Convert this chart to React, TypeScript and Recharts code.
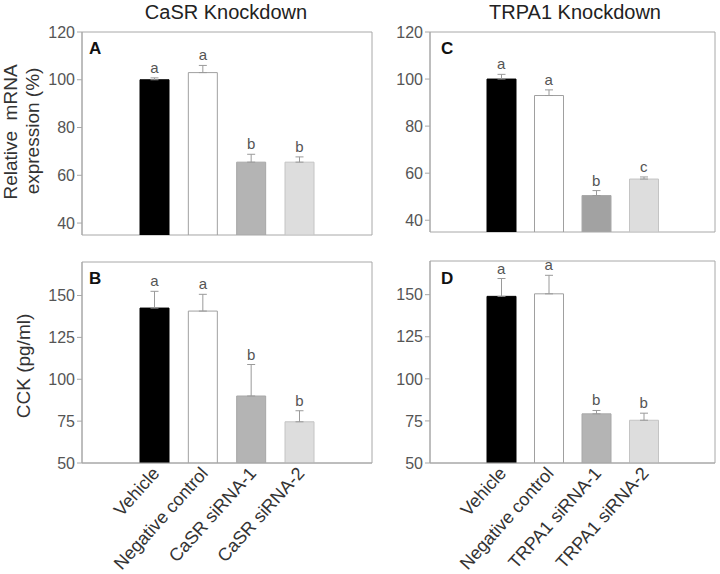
import React from "react";
import {
  ComposedChart,
  Bar,
  Line,
  XAxis,
  YAxis,
  Cell,
  ErrorBar,
  LabelList,
  ReferenceArea,
} from "recharts";

const FONT = "'Liberation Sans', Arial, sans-serif";

// ---- data ----
const casrCategories = ["Vehicle", "Negative control", "CaSR siRNA-1", "CaSR siRNA-2"];
const trpa1Categories = ["Vehicle", "Negative control", "TRPA1 siRNA-1", "TRPA1 siRNA-2"];

const casrMrna = [100, 103, 65.5, 65.5];
const casrMrnaErr = [0.8, 3, 3.3, 2.2];
const casrMrnaLetters = ["a", "a", "b", "b"];

const casrCck = [142.5, 140.7, 90, 74.6];
const casrCckErr = [10, 10, 18.8, 6.6];
const casrCckLetters = ["a", "a", "b", "b"];

const trpa1Mrna = [100, 93, 50.5, 57.5];
const trpa1MrnaErr = [2, 2.4, 2.1, 0.9];
const trpa1MrnaLetters = ["a", "a", "b", "c"];

const trpa1Cck = [149, 150.5, 79.2, 75.4];
const trpa1CckErr = [10.6, 11, 2, 4.2];
const trpa1CckLetters = ["a", "a", "b", "b"];

const mrnaTicks = [40, 60, 80, 100, 120];
const mrnaDomain = [35, 120];
const cckTicks = [50, 75, 100, 125, 150];
const cckDomain = [50, 170];

const fillsA = ["#000000", "#ffffff", "#b4b4b4", "#dddddd"];
const fillsC = ["#000000", "#ffffff", "#a2a2a2", "#dddddd"];
const strokesAll = ["#000000", "#a0a0a0", "#a8a8a8", "#c4c4c4"];

function buildRows(cats: string[], vals: number[], errs: number[], letters: string[]) {
  const rows: any[] = [{ name: "" }];
  cats.forEach((c, i) => {
    rows.push({
      name: c,
      value: vals[i],
      err: [0, errs[i]],
      top: vals[i] + errs[i],
      letter: letters[i],
    });
  });
  rows.push({ name: " " });
  return rows;
}

const AngledTick = (props: any) => {
  const { x, y, payload } = props;
  const v = payload && payload.value;
  if (!v || !String(v).trim()) return null;
  return (
    <text
      transform={`translate(${x + 6},${y + 11}) rotate(-48)`}
      textAnchor="end"
      fontSize={18}
      fontFamily={FONT}
      fill="#333"
    >
      {v}
    </text>
  );
};

const LetterLabel = (props: any) => {
  const { x, y, value } = props;
  if (value == null || x == null || y == null || isNaN(x) || isNaN(y)) return null;
  return (
    <text x={x} y={y - 5} textAnchor="middle" fontSize={15} fontFamily={FONT} fill="#555">
      {value}
    </text>
  );
};

const MrnaYLabel = () => (
  <g>
    <text
      transform="translate(10,132) rotate(-90)"
      textAnchor="middle"
      dominantBaseline="central"
      fontSize={19}
      fontFamily={FONT}
      fill="#333"
      style={{ whiteSpace: "pre" }}
    >
      {"Relative\u00a0\u00a0mRNA"}
    </text>
    <text
      transform="translate(32,131) rotate(-90)"
      textAnchor="middle"
      dominantBaseline="central"
      fontSize={19}
      fontFamily={FONT}
      fill="#333"
    >
      expression (%)
    </text>
  </g>
);

const CckYLabel = () => (
  <text
    transform="translate(23,126) rotate(-90)"
    textAnchor="middle"
    dominantBaseline="central"
    fontSize={19}
    fontFamily={FONT}
    fill="#333"
  >
    CCK (pg/ml)
  </text>
);

type PanelProps = {
  rows: any[];
  fills: string[];
  domain: number[];
  ticks: number[];
  width: number;
  height: number;
  margin: any;
  yWidth: number;
  xHeight: number;
  showX: boolean;
  yLabel?: any;
};

function Panel(p: PanelProps) {
  return (
    <ComposedChart
      width={p.width}
      height={p.height}
      data={p.rows}
      margin={p.margin}
      barCategoryGap="20%"
    >
      <XAxis
        dataKey="name"
        height={p.xHeight}
        interval={0}
        axisLine={{ stroke: "#a8a8a8" }}
        tickLine={false}
        tickSize={0}
        tickMargin={0}
        tick={p.showX ? <AngledTick /> : false}
      />
      <YAxis
        domain={p.domain}
        ticks={p.ticks}
        width={p.yWidth}
        allowDataOverflow
        axisLine={{ stroke: "#a8a8a8" }}
        tickLine={{ stroke: "#a8a8a8" }}
        tickSize={5}
        tickMargin={2}
        tick={{ fill: "#555", fontSize: 16, fontFamily: FONT }}
        label={p.yLabel ? { content: p.yLabel } : undefined}
      />
      <ReferenceArea y1={p.domain[0]} y2={p.domain[1]} fill="none" stroke="#a8a8a8" strokeWidth={1} ifOverflow="visible" />
      <Bar dataKey="value" isAnimationActive={false}>
        {p.rows.map((r, i) => (
          <Cell key={i} fill={i >= 1 && i <= 4 ? p.fills[i - 1] : "none"} stroke={i >= 1 && i <= 4 ? strokesAll[i - 1] : "none"} />
        ))}
        <ErrorBar dataKey="err" width={4} stroke="#9a9a9a" strokeWidth={1} direction="y" />
      </Bar>
      <Line dataKey="top" stroke="none" dot={false} activeDot={false} isAnimationActive={false} legendType="none">
        <LabelList dataKey="letter" content={LetterLabel} />
      </Line>
    </ComposedChart>
  );
}

const titleStyle: React.CSSProperties = {
  position: "absolute",
  fontFamily: FONT,
  fontSize: 20,
  lineHeight: "20px",
  color: "#222",
  textAlign: "center",
  width: 300,
  whiteSpace: "nowrap",
};

const letterStyle: React.CSSProperties = {
  position: "absolute",
  fontFamily: FONT,
  fontSize: 17,
  lineHeight: "17px",
  fontWeight: "bold",
  color: "#111",
};

export default function App() {
  const rowsA = buildRows(casrCategories, casrMrna, casrMrnaErr, casrMrnaLetters);
  const rowsB = buildRows(casrCategories, casrCck, casrCckErr, casrCckLetters);
  const rowsC = buildRows(trpa1Categories, trpa1Mrna, trpa1MrnaErr, trpa1MrnaLetters);
  const rowsD = buildRows(trpa1Categories, trpa1Cck, trpa1CckErr, trpa1CckLetters);
  return (
    <div style={{ position: "absolute", left: 0, top: 0, width: 720, height: 574, background: "#fff", overflow: "hidden" }}>
      <div style={{ position: "absolute", left: 0, top: 0 }}>
        <Panel rows={rowsA} fills={fillsA} domain={mrnaDomain} ticks={mrnaTicks} width={380} height={240}
          margin={{ top: 32, right: 8, bottom: 5, left: 0 }} yWidth={82} xHeight={0} showX={false} yLabel={MrnaYLabel} />
      </div>
      <div style={{ position: "absolute", left: 360, top: 0 }}>
        <Panel rows={rowsC} fills={fillsC} domain={mrnaDomain} ticks={mrnaTicks} width={360} height={240}
          margin={{ top: 32, right: 5, bottom: 8, left: 0 }} yWidth={70} xHeight={0} showX={false} />
      </div>
      <div style={{ position: "absolute", left: 0, top: 240 }}>
        <Panel rows={rowsB} fills={fillsA} domain={cckDomain} ticks={cckTicks} width={380} height={334}
          margin={{ top: 22, right: 8, bottom: 0, left: 0 }} yWidth={82} xHeight={111} showX={true} yLabel={CckYLabel} />
      </div>
      <div style={{ position: "absolute", left: 360, top: 240 }}>
        <Panel rows={rowsD} fills={fillsA} domain={cckDomain} ticks={cckTicks} width={360} height={334}
          margin={{ top: 21, right: 5, bottom: 0, left: 0 }} yWidth={70} xHeight={111} showX={true} />
      </div>
      <div style={{ ...titleStyle, left: 226 - 150, top: 2 }}>CaSR Knockdown</div>
      <div style={{ ...titleStyle, left: 575 - 150, top: 2 }}>TRPA1 Knockdown</div>
      <div style={{ ...letterStyle, left: 89, top: 40 }}>A</div>
      <div style={{ ...letterStyle, left: 89, top: 270 }}>B</div>
      <div style={{ ...letterStyle, left: 441, top: 40 }}>C</div>
      <div style={{ ...letterStyle, left: 441, top: 270 }}>D</div>
    </div>
  );
}
